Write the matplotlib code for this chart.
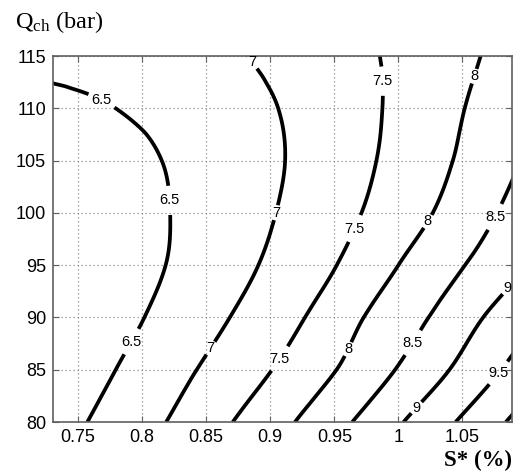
import numpy as np
import matplotlib
matplotlib.use("Agg")
import matplotlib.pyplot as plt
import matplotlib.tri as mtri

# ---- data ----
s_star = [0.73, 0.76, 0.79, 0.82, 0.85, 0.88, 0.91, 0.94, 0.97, 1.00, 1.03, 1.06, 1.09]
q_ch = [80, 85, 90, 95, 100, 105, 110, 115]
z_80 = [6.30, 6.52, 6.76, 7.01, 7.30, 7.59, 7.90, 8.23, 8.57, 8.95, 9.32, 9.69, 10.08]
z_85 = [6.17, 6.36, 6.58, 6.82, 7.06, 7.31, 7.58, 7.88, 8.19, 8.53, 8.88, 9.25, 9.62]
z_90 = [6.08, 6.23, 6.42, 6.63, 6.86, 7.09, 7.34, 7.63, 7.97, 8.26, 8.57, 8.93, 9.27]
z_95 = [6.08, 6.21, 6.34, 6.51, 6.72, 6.92, 7.15, 7.39, 7.68, 8.00, 8.29, 8.58, 8.89]
z_100 = [6.11, 6.22, 6.34, 6.49, 6.65, 6.83, 7.04, 7.26, 7.49, 7.75, 8.03, 8.32, 8.64]
z_105 = [6.22, 6.30, 6.40, 6.52, 6.66, 6.82, 6.99, 7.19, 7.40, 7.64, 7.89, 8.16, 8.45]
z_110 = [6.39, 6.45, 6.53, 6.62, 6.74, 6.87, 7.02, 7.19, 7.38, 7.59, 7.82, 8.07, 8.33]
z_115 = [6.63, 6.67, 6.72, 6.79, 6.88, 6.99, 7.12, 7.27, 7.42, 7.58, 7.77, 7.97, 8.19]
levels = [6.5, 7, 7.5, 8, 8.5, 9, 9.5, 10]
x_ticks = [0.75, 0.8, 0.85, 0.9, 0.95, 1.0, 1.05]
y_ticks = [80, 85, 90, 95, 100, 105, 110, 115]

# label anchor points (layout)
label_pos = [(0.770, 111.1), (0.822, 101.2), (0.793, 87.6),
             (0.884, 114.2), (0.905, 100.0), (0.853, 87.1),
             (0.989, 112.6), (0.966, 98.5), (0.907, 86.1),
             (1.066, 112.8), (1.024, 99.1), (0.962, 86.9),
             (1.077, 99.5), (1.011, 87.6),
             (1.085, 92.8), (1.013, 81.5),
             (1.077, 84.8)]

Z = np.array([z_80, z_85, z_90, z_95, z_100, z_105, z_110, z_115])
ny, nx = Z.shape

# triangulate in index space, refine smoothly, then map to data coords
ii, jj = np.meshgrid(np.arange(nx, dtype=float), np.arange(ny, dtype=float))
tris = []
for j in range(ny - 1):
    for i in range(nx - 1):
        a = j * nx + i
        b = a + 1
        c = a + nx
        d = c + 1
        tris.append([a, b, d])
        tris.append([a, d, c])
tri_idx = mtri.Triangulation(ii.ravel(), jj.ravel(), np.array(tris))
interp = mtri.CubicTriInterpolator(tri_idx, Z.ravel(), kind='geom')
refiner = mtri.UniformTriRefiner(tri_idx)
tri_ref, z_ref = refiner.refine_field(Z.ravel(), triinterpolator=interp, subdiv=4)
sx = np.array(s_star)
qy = np.array(q_ch, dtype=float)
xr = np.interp(tri_ref.x, np.arange(nx), sx)
yr = np.interp(tri_ref.y, np.arange(ny), qy)
tri_data = mtri.Triangulation(xr, yr, tri_ref.triangles)

plt.rcParams['mathtext.fontset'] = 'custom'
plt.rcParams['mathtext.rm'] = 'Liberation Serif'

fig = plt.figure(figsize=(5.17, 4.73), dpi=100)
ax = fig.add_axes([0.1025, 0.1078, 0.8875, 0.7738])

frame_col = '#606060'
ax.set_xlim(0.7305, 1.0885)
ax.set_ylim(80, 115)
ax.set_xticks(x_ticks)
ax.set_yticks(y_ticks)
ax.set_xticklabels(['%g' % v for v in x_ticks])
ax.set_yticklabels(['%g' % v for v in y_ticks])
ax.grid(True, color='#8a8a8a', linestyle=(0, (1, 2.2)), linewidth=0.9)
ax.set_axisbelow(True)
ax.tick_params(direction='in', length=4, width=0.8, color=frame_col,
               top=True, right=True, labelsize=13, pad=5)
for lab in ax.get_xticklabels() + ax.get_yticklabels():
    lab.set_fontfamily('Liberation Sans')
for sp in ax.spines.values():
    sp.set_color(frame_col)
    sp.set_linewidth(1.2)

cs = ax.tricontour(tri_data, z_ref, levels=levels, colors='black', linewidths=2.7)
texts = ax.clabel(cs, levels, inline=True, inline_spacing=3, fmt='%g',
                  fontsize=10.5, manual=label_pos)
for t in cs.labelTexts:
    t.set_rotation(0)
    t.set_fontfamily('Liberation Sans')

fig.text(15 / 517, 1 - 28 / 473, r'$\mathrm{Q_{ch}}$ (bar)',
         family='Liberation Serif', fontsize=17.5, va='baseline', ha='left')
fig.text(512 / 517, 1 - 466 / 473, 'S* (%)', family='Liberation Serif',
         fontweight='bold', fontsize=16.5, va='baseline', ha='right')

fig.savefig('out.png', dpi=100)
